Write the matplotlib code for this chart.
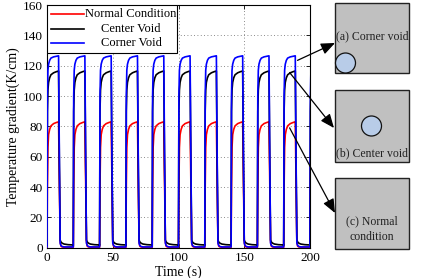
import matplotlib
matplotlib.use("Agg")
import matplotlib.pyplot as plt
from matplotlib.patches import Rectangle, Ellipse
from matplotlib.lines import Line2D
import numpy as np

plt.rcParams['font.family'] = ['Liberation Serif', 'DejaVu Serif']

# ---- data ----
cycle_starts = [0, 20, 40, 60, 80, 100, 120, 140, 160, 180, 200]
cycle_offsets = [0.0, 0.3, 0.7, 1.2, 2.0, 3.0, 5.0, 7.0, 8.8, 9.4, 10.0, 10.6, 11.5, 13.0, 16.0, 19.9]
normal_cycle = [0.3, 40, 66, 74.5, 78.0, 80.3, 81.8, 82.5, 83.0, 45, 4, 1.0, 0.5, 0.3, 0.3, 0.3]
center_cycle = [1.5, 90, 104, 109, 112, 114, 115.3, 116, 116.5, 55, 5, 3.8, 3.0, 2.4, 2.0, 1.8]
corner_cycle = [0.5, 100, 117, 121, 123.5, 125, 125.8, 126.2, 126.5, 60, 3, 1.5, 0.8, 0.5, 0.5, 0.5]

series_names = ['Normal Condition', 'Center Void', 'Corner Void']
series_colors = ['#ff0000', '#000000', '#0000ff']

yticks = [0, 20, 40, 60, 80, 100, 120, 140, 160]
xticks = [0, 50, 100, 150, 200]

panel_titles = ['(a) Corner void', '(b) Center void', '(c) Normal\ncondition']


def build(cycle):
    t, v = [], []
    for s in cycle_starts:
        for o, val in zip(cycle_offsets, cycle):
            t.append(s + o)
            v.append(val)
    return np.array(t), np.array(v)


W, H = 424, 278
fig = plt.figure(figsize=(W / 100, H / 100), dpi=100)
ax = fig.add_axes([47 / W, 1 - 247.7 / H, (310 - 47) / W, (247.7 - 5) / H])

data = [build(normal_cycle), build(center_cycle), build(corner_cycle)]
for (t, v), c in zip(data, series_colors):
    ax.plot(t, v, color=c, lw=1.2, zorder=3)

ax.set_xlim(0, 200)
ax.set_ylim(0, 160)
ax.set_xticks(xticks)
ax.set_yticks(yticks)
ax.tick_params(direction='in', top=True, right=True, labelsize=9.5, length=3, width=0.6, pad=3)
ax.grid(True, linestyle=(0, (1, 3)), color='#666666', lw=0.6)
for sp in ax.spines.values():
    sp.set_linewidth(0.8)
ax.set_xlabel('Time (s)', fontsize=10, labelpad=1)
ax.set_ylabel('Temperature gradient(K/cm)', fontsize=10, labelpad=2)

# legend (MATLAB-style, centred text)
lx1 = (177 - 47) / (310 - 47)
ly0 = (247.7 - 53) / 242.7
ax.add_patch(Rectangle((0, ly0), lx1, 1 - ly0, transform=ax.transAxes,
                       facecolor='white', edgecolor='black', lw=0.8, zorder=5))
rows = [(247.7 - 14) / 242.7, (247.7 - 29) / 242.7, (247.7 - 43) / 242.7]
for y, name, c in zip(rows, series_names, series_colors):
    ax.add_line(Line2D([0.015, 0.14], [y, y], transform=ax.transAxes, color=c, lw=1.2, zorder=6))
    ax.text(0.32, y, name, transform=ax.transAxes, ha='center', va='center',
            fontsize=9, zorder=6)

# side panels
panels = [(335, 3, 409, 73), (335, 90, 409, 162), (335, 178, 409, 249)]
for (x0, y0, x1, y1) in panels:
    fig.add_artist(Rectangle((x0 / W, 1 - y1 / H), (x1 - x0) / W, (y1 - y0) / H,
                             transform=fig.transFigure, facecolor='#c0c0c0',
                             edgecolor='#222222', lw=1.0))
# void circles
for (cx, cy) in [(345.5, 63), (371.5, 126)]:
    fig.add_artist(Ellipse((cx / W, 1 - cy / H), 20 / W, 20 / H, transform=fig.transFigure,
                           facecolor='#b8cce8', edgecolor='#111111', lw=0.9))
fig.text(372 / W, 1 - 36 / H, panel_titles[0], ha='center', va='center', fontsize=8.5, color='#222222')
fig.text(372 / W, 1 - 153 / H, panel_titles[1], ha='center', va='center', fontsize=8.5, color='#222222')
fig.text(372 / W, 1 - 229.5 / H, panel_titles[2], ha='center', va='center', fontsize=8.5,
         color='#222222', linespacing=1.4)

# arrows from curves to panels
arrows = [((190.5, 123.5), (335, 43)), ((184.5, 115.5), (334, 128)), ((184.5, 79), (335, 213))]
for (tail, head) in arrows:
    ax.annotate('', xy=(head[0] / W, 1 - head[1] / H), xycoords='figure fraction',
                xytext=tail, textcoords='data',
                arrowprops=dict(arrowstyle='-|>,head_length=0.6,head_width=0.25', color='black',
                                lw=0.9, mutation_scale=14, shrinkA=0, shrinkB=0),
                annotation_clip=False, zorder=10)

fig.savefig('out.png', dpi=100)
